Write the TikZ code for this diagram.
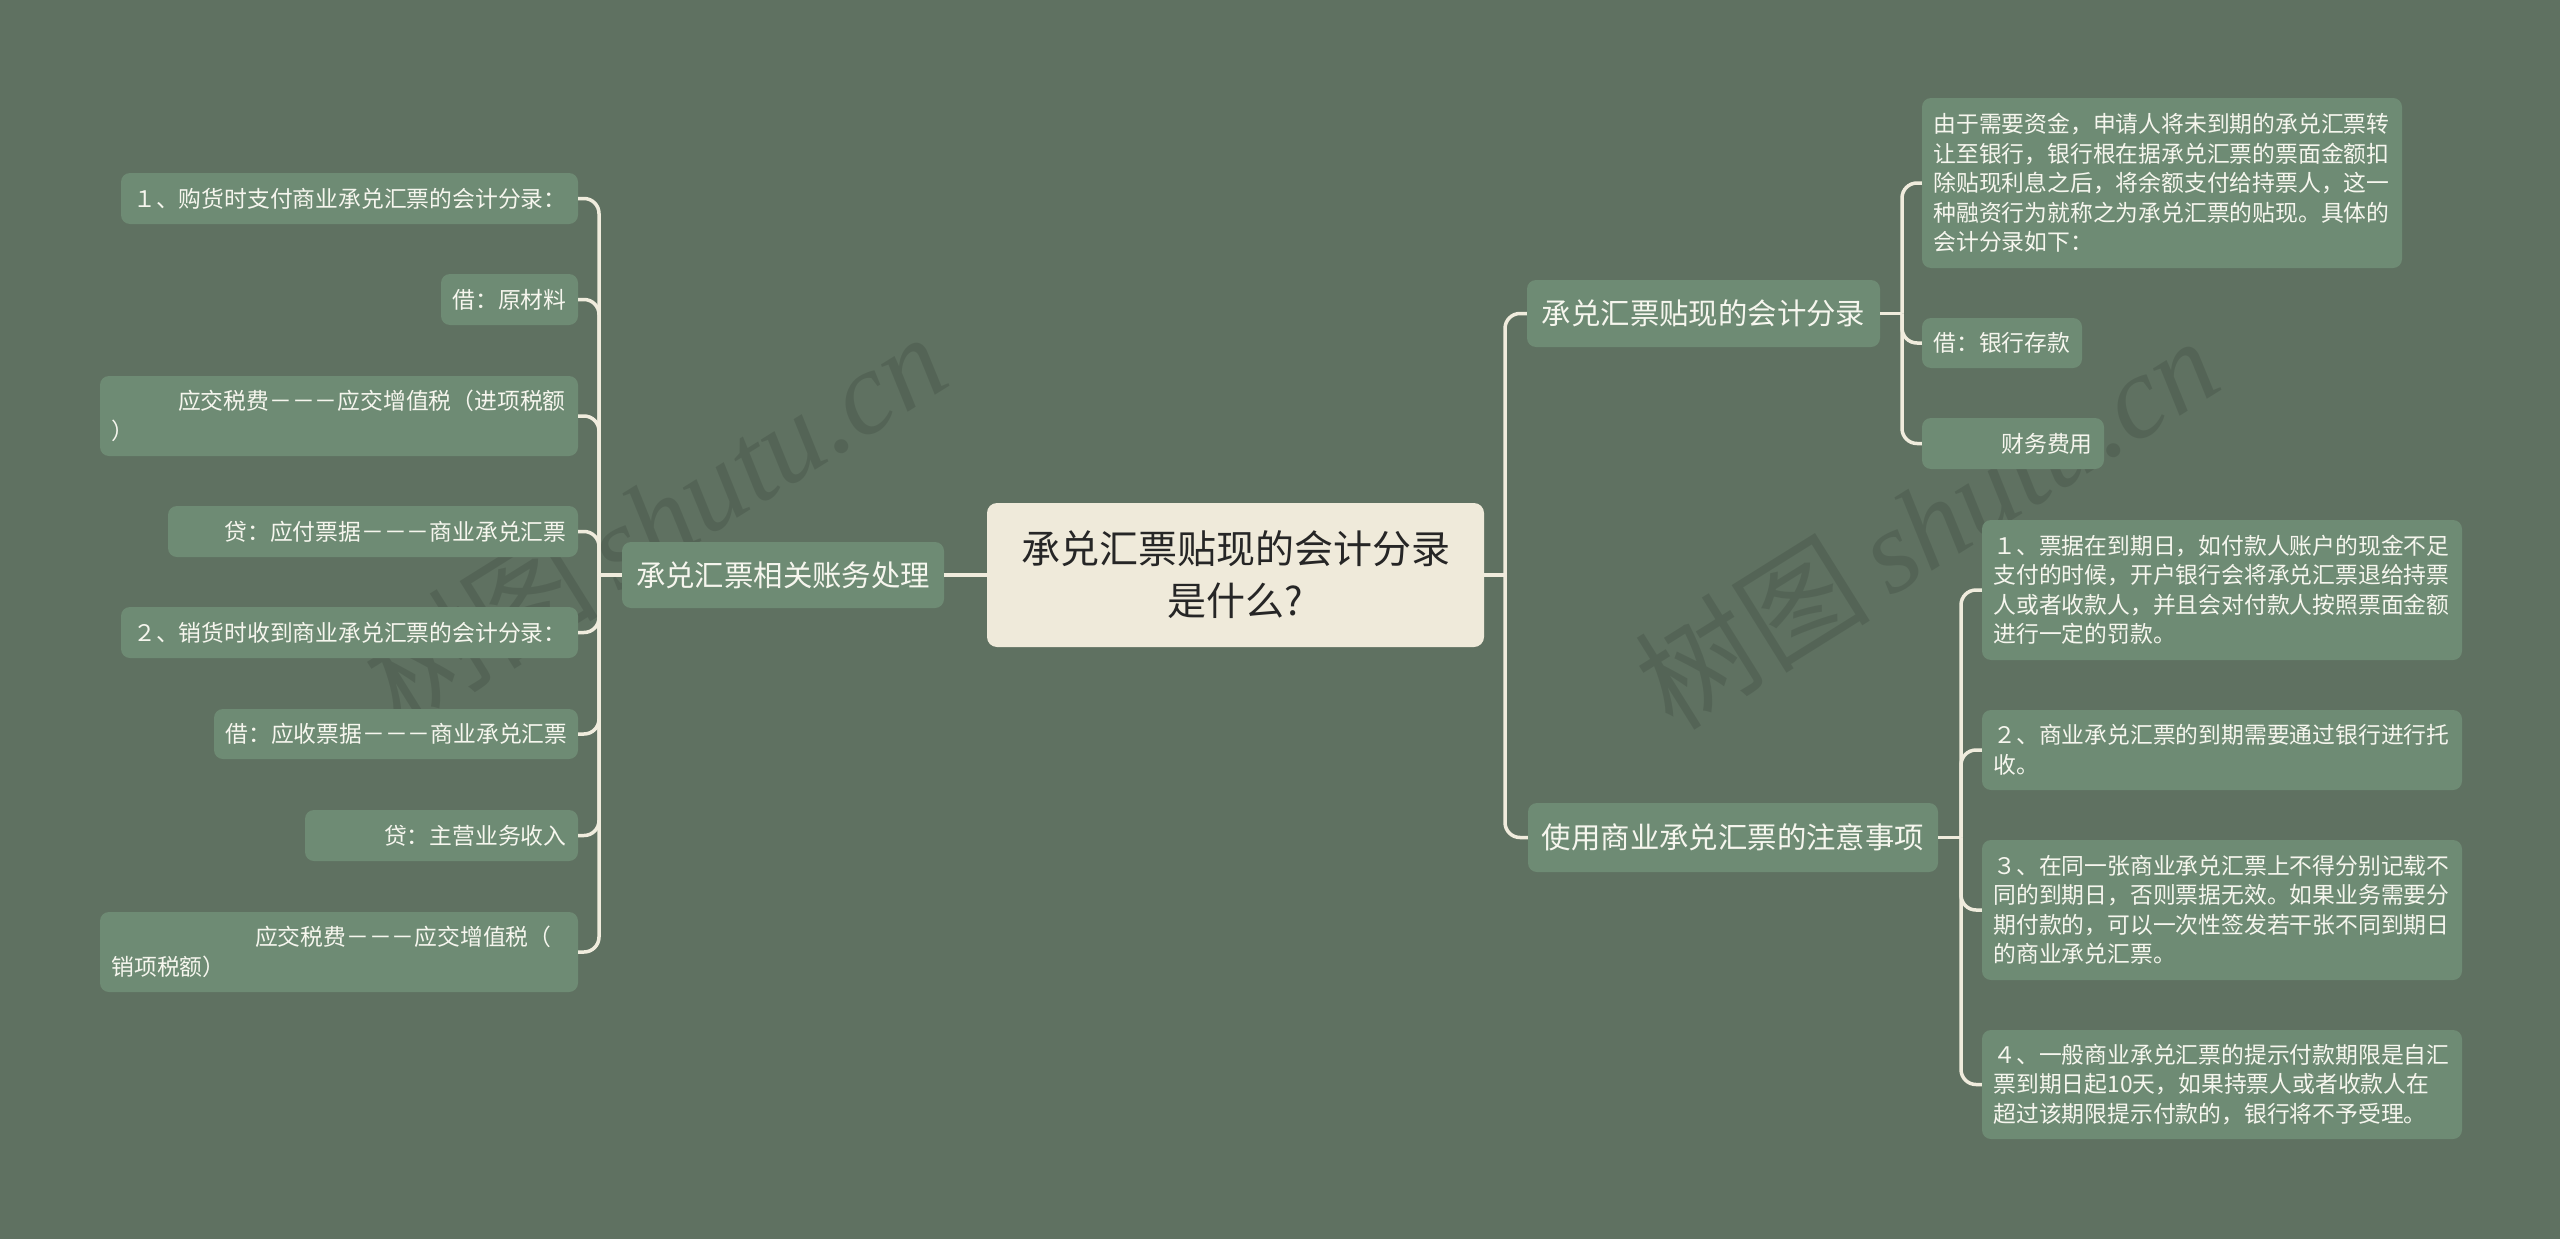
\documentclass[tikz,border=0pt]{standalone}
\usepackage{fontspec}
\setmainfont{Noto Sans CJK SC}
\newfontfamily\wmlatin{Liberation Serif}
\definecolor{bgc}{RGB}{95,113,97}
\definecolor{leafc}{RGB}{110,139,116}
\definecolor{linec}{RGB}{240,236,221}
\definecolor{rootc}{RGB}{239,234,218}
\definecolor{txtc}{RGB}{246,246,238}
\definecolor{roottxt}{RGB}{38,38,38}
\begin{document}
\begin{tikzpicture}[x=1pt,y=-1pt,
  box/.style={rectangle, rounded corners=9pt, fill=leafc, text=txtc, inner xsep=11.5pt, inner ysep=0pt,
    font=\fontsize{22.8}{29.5}\selectfont},
  branch/.style={box, font=\fontsize{29.4}{36}\selectfont, align=center},
  conn/.style={draw=linec, line width=3.5pt, rounded corners=15pt},
  wm/.style={rotate=32, text=black, opacity=0.11, inner sep=0pt}]
\fill[bgc] (0,0) rectangle (2560,1239);
\useasboundingbox (0,0) rectangle (2560,1239);

% watermarks
\node[wm] (wm1) at (654,518) {\fontsize{118}{118}\selectfont 树图\,{\wmlatin\itshape shutu.cn}};
\node[wm] (wm2) at (1926,522) {\fontsize{118}{118}\selectfont 树图\,{\wmlatin\itshape shutu.cn}};

% root
\node[rectangle, rounded corners=10pt, fill=rootc, text=roottxt, minimum width=497pt, minimum height=144pt,
  align=center, inner sep=0pt, font=\fontsize{39}{52}\selectfont] (root) at (1235.5,575)
  {承兑汇票贴现的会计分录\\是什么?};

% branches
\node[branch, minimum width=322pt, minimum height=66pt] (lb) at (783,575) {承兑汇票相关账务处理};
\node[branch, minimum width=353pt, minimum height=67pt] (rb1) at (1703.5,313.5) {承兑汇票贴现的会计分录};
\node[branch, minimum width=410pt, minimum height=69pt] (rb2) at (1733,837.5) {使用商业承兑汇票的注意事项};

% left leaves
\node[box, minimum width=457pt, minimum height=51pt, text width=434pt, align=right] (l1) at (349.5,198.5) {１、购货时支付商业承兑汇票的会计分录：};
\node[box, minimum width=137pt, minimum height=51pt, text width=114pt, align=right] (l2) at (509.5,299.5) {借：原材料};
\node[box, minimum width=478pt, minimum height=80pt, text width=455pt, align=left] (l3) at (339,416) {\hspace*{66.5pt}应交税费－－－应交增值税（进项税额\\）};
\node[box, minimum width=410pt, minimum height=51pt, text width=387pt, align=right] (l4) at (373,531.5) {贷：应付票据－－－商业承兑汇票};
\node[box, minimum width=457pt, minimum height=51pt, text width=434pt, align=right] (l5) at (349.5,632.5) {２、销货时收到商业承兑汇票的会计分录：};
\node[box, minimum width=364pt, minimum height=50pt, text width=341pt, align=right] (l6) at (396,734) {借：应收票据－－－商业承兑汇票};
\node[box, minimum width=273pt, minimum height=51pt, text width=250pt, align=right] (l7) at (441.5,835.5) {贷：主营业务收入};
\node[box, minimum width=478pt, minimum height=80pt, text width=455pt, align=left] (l8) at (339,952) {\hspace*{143.5pt}应交税费－－－应交增值税（\\销项税额）};

% right upper leaves
\node[box, minimum width=480pt, minimum height=170pt, text width=457pt, align=left] (ra) at (2162,183)
  {由于需要资金，申请人将未到期的承兑汇票转\\让至银行，银行根在据承兑汇票的票面金额扣\\除贴现利息之后，将余额支付给持票人，这一\\种融资行为就称之为承兑汇票的贴现。具体的\\会计分录如下：};
\node[box, minimum width=160pt, minimum height=50pt, text width=137pt, align=left] (rbb) at (2002,343) {借：银行存款};
\node[box, minimum width=182pt, minimum height=51pt, text width=159pt, align=left] (rc) at (2013,443.5) {\hspace*{68pt}财务费用};

% right lower leaves
\node[box, minimum width=480pt, minimum height=140pt, text width=457pt, align=left] (d1) at (2222,590)
  {１、票据在到期日，如付款人账户的现金不足\\支付的时候，开户银行会将承兑汇票退给持票\\人或者收款人，并且会对付款人按照票面金额\\进行一定的罚款。};
\node[box, minimum width=480pt, minimum height=80pt, text width=457pt, align=left] (d2) at (2222,750)
  {２、商业承兑汇票的到期需要通过银行进行托\\收。};
\node[box, minimum width=480pt, minimum height=140pt, text width=457pt, align=left] (d3) at (2222,910)
  {３、在同一张商业承兑汇票上不得分别记载不\\同的到期日，否则票据无效。如果业务需要分\\期付款的，可以一次性签发若干张不同到期日\\的商业承兑汇票。};
\node[box, minimum width=480pt, minimum height=109pt, text width=457pt, align=left] (d4) at (2222,1084.5)
  {４、一般商业承兑汇票的提示付款期限是自汇\\票到期日起10天，如果持票人或者收款人在\\超过该期限提示付款的，银行将不予受理。};

% junction points
\coordinate (jL) at (599,575);
\coordinate (jR) at (1505,575);
\coordinate (jU) at (1902,313.5);
\coordinate (jD) at (1961,837.5);

% connectors
\draw[conn] (root.west) -- (lb.east);
\draw[conn] (lb.west) -- (jL);
\foreach \n in {l1,l2,l3,l4,l5,l6,l7,l8} \draw[conn] (jL) |- (\n.east);
\draw[conn] (root.east) -- (jR);
\draw[conn] (jR) |- (rb1.west);
\draw[conn] (jR) |- (rb2.west);
\draw[conn] (rb1.east) -- (jU);
\foreach \n in {ra,rbb,rc} \draw[conn] (jU) |- (\n.west);
\draw[conn] (rb2.east) -- (jD);
\foreach \n in {d1,d2,d3,d4} \draw[conn] (jD) |- (\n.west);
\end{tikzpicture}
\end{document}
